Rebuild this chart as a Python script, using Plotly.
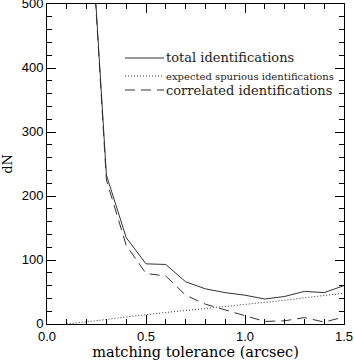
import plotly.graph_objects as go

# matching tolerance (arcsec)
tolerance = [0.1, 0.2, 0.3, 0.4, 0.5, 0.6, 0.7, 0.8, 0.9, 1.0, 1.1, 1.2, 1.3, 1.4, 1.5]
total = [None, 737, 233, 135, 94, 93, 66, 55, 49, 45, 39, 43, 51, 49, 60]
spurious = [0, 3, 7, 11, 15, 18, 21, 24, 27, 31, 34, 37, 41, 45, 48]
correlated = [None, 733, 225, 123, 79, 75, 45, 31, 22, 13, 4, 5, 10, 3, 11]
y_ticks = [0, 100, 200, 300, 400, 500]
x_ticks = [0, 0.5, 1.0, 1.5]
x_ticktext = ["0.0", "0.5", "1.0", "1.5"]

line_col = "#333333"
serif = "DejaVu Serif"
sans = "Liberation Sans"

fig = go.Figure()
fig.add_trace(go.Scatter(x=tolerance, y=total, mode="lines", name="total identifications",
                         line=dict(color=line_col, width=1)))
fig.add_trace(go.Scatter(x=tolerance, y=spurious, mode="lines", name="expected spurious identifications",
                         line=dict(color=line_col, width=1, dash="1px,2px")))
fig.add_trace(go.Scatter(x=tolerance, y=correlated, mode="lines", name="correlated identifications",
                         line=dict(color=line_col, width=1, dash="10px,6px")))

# hand-made legend (IDL style)
legend_rows = [("total identifications", None, 13, 58),
               ("expected spurious identifications", "1px,2px", 10, 76),
               ("correlated identifications", "10px,6px", 13, 90)]
for text, dash, size, ypix in legend_rows:
    yp = 1 - (ypix - 4) / 320
    fig.add_shape(type="line", xref="paper", yref="paper",
                  x0=(125 - 47) / 297, x1=(164 - 47) / 297, y0=yp, y1=yp,
                  line=dict(color=line_col, width=1, dash=dash))
    fig.add_annotation(text=text, xref="paper", yref="paper", x=(164 - 47) / 297, y=yp,
                       xanchor="left", yanchor="middle", showarrow=False,
                       font=dict(family=serif, size=size, color="#222222"))

axis_common = dict(showline=True, linecolor="black", linewidth=1, mirror="allticks",
                   ticks="inside", ticklen=9, tickcolor="black", showgrid=False, zeroline=False,
                   automargin=False, ticklabeloverflow="allow",
                   tickfont=dict(family=sans, size=13, color="black"))

fig.update_xaxes(range=[0, 1.5], tickvals=x_ticks, ticktext=x_ticktext,
                 minor=dict(ticks="inside", ticklen=5, dtick=0.1, tickcolor="black", showgrid=False),
                 title=dict(text="matching tolerance (arcsec)", standoff=2,
                            font=dict(family=serif, size=14.5, color="black")),
                 **axis_common)
fig.update_yaxes(range=[0, 500], tickvals=y_ticks, ticklabelshift=-1,
                 minor=dict(ticks="inside", ticklen=5, dtick=20, tickcolor="black", showgrid=False),
                 title=dict(text="dN", standoff=8, font=dict(family=serif, size=13, color="black")),
                 **axis_common)

fig.update_layout(width=354, height=360, showlegend=False,
                  plot_bgcolor="white", paper_bgcolor="white",
                  margin=dict(l=47, r=10, t=4, b=36, autoexpand=False))

fig.write_html("out.html", config={"displayModeBar": False},
               post_script="document.body.style.margin='0';")
